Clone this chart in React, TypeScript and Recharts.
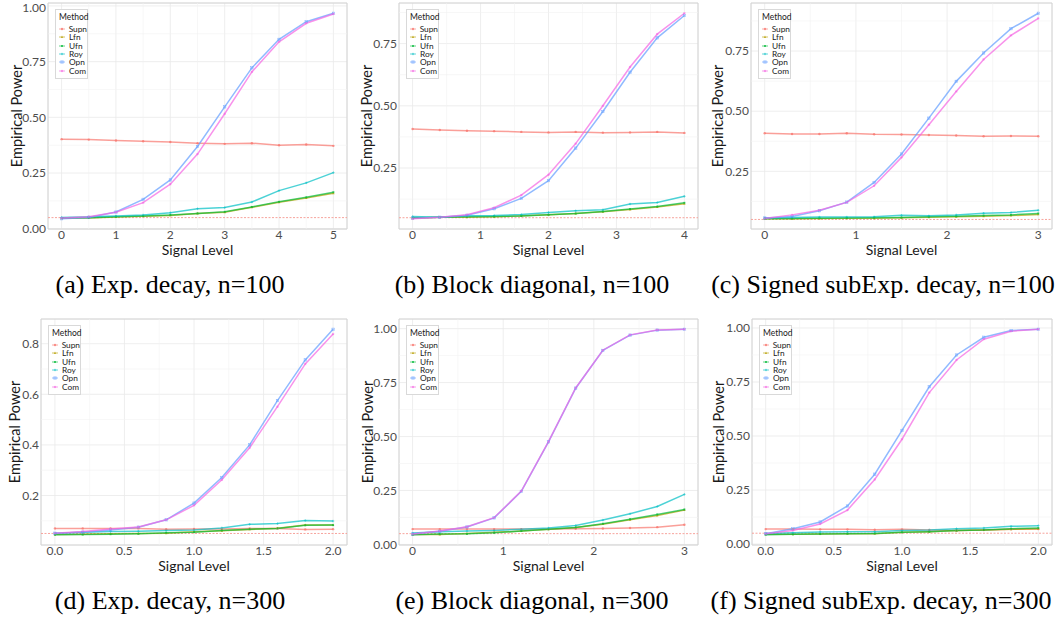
import React from "react";
import {
  LineChart,
  Line,
  XAxis,
  YAxis,
  CartesianGrid,
  ReferenceLine,
  ReferenceArea,
  Legend,
} from "recharts";

const methods = ["Supn", "Lfn", "Ufn", "Roy", "Opn", "Com"];
const colors = ["#F8766D", "#B79F00", "#00BA38", "#00BFC4", "#619CFF", "#F564E3"];

// (a) Exp. decay, n=100
const xA = [0, 0.5, 1, 1.5, 2, 2.5, 3, 3.5, 4, 4.5, 5];
const supnA = [0.402, 0.4, 0.396, 0.393, 0.389, 0.384, 0.381, 0.384, 0.375, 0.378, 0.372];
const lfnA = [0.047, 0.048, 0.053, 0.056, 0.06, 0.068, 0.074, 0.096, 0.119, 0.138, 0.159];
const ufnA = [0.048, 0.049, 0.054, 0.057, 0.062, 0.069, 0.076, 0.098, 0.121, 0.141, 0.164];
const royA = [0.051, 0.054, 0.057, 0.062, 0.072, 0.09, 0.095, 0.12, 0.171, 0.206, 0.252];
const opnA = [0.045, 0.051, 0.075, 0.132, 0.219, 0.369, 0.547, 0.722, 0.85, 0.929, 0.967];
const comA = [0.048, 0.054, 0.074, 0.117, 0.2, 0.335, 0.516, 0.704, 0.839, 0.922, 0.964];

// (b) Block diagonal, n=100
const xB = [0, 0.4, 0.8, 1.2, 1.6, 2, 2.4, 2.8, 3.2, 3.6, 4];
const supnB = [0.407, 0.403, 0.4, 0.398, 0.395, 0.393, 0.395, 0.392, 0.393, 0.395, 0.391];
const lfnB = [0.048, 0.052, 0.052, 0.054, 0.058, 0.062, 0.067, 0.074, 0.083, 0.093, 0.106];
const ufnB = [0.05, 0.052, 0.054, 0.055, 0.057, 0.062, 0.067, 0.075, 0.085, 0.095, 0.11];
const royB = [0.055, 0.052, 0.058, 0.059, 0.063, 0.071, 0.078, 0.082, 0.105, 0.111, 0.136];
const opnB = [0.048, 0.052, 0.06, 0.086, 0.128, 0.199, 0.33, 0.477, 0.635, 0.773, 0.863];
const comB = [0.046, 0.052, 0.062, 0.09, 0.141, 0.223, 0.348, 0.5, 0.656, 0.788, 0.872];

// (c) Signed subExp. decay, n=100
const xC = [0, 0.3, 0.6, 0.9, 1.2, 1.5, 1.8, 2.1, 2.4, 2.7, 3];
const supnC = [0.408, 0.405, 0.405, 0.408, 0.404, 0.403, 0.401, 0.399, 0.396, 0.397, 0.396];
const lfnC = [0.053, 0.053, 0.054, 0.055, 0.055, 0.057, 0.059, 0.061, 0.063, 0.066, 0.071];
const ufnC = [0.053, 0.054, 0.055, 0.056, 0.057, 0.058, 0.061, 0.063, 0.066, 0.069, 0.075];
const royC = [0.056, 0.058, 0.06, 0.06, 0.061, 0.067, 0.065, 0.069, 0.076, 0.079, 0.088];
const opnC = [0.056, 0.062, 0.086, 0.122, 0.204, 0.322, 0.471, 0.624, 0.742, 0.843, 0.907];
const comC = [0.054, 0.069, 0.088, 0.121, 0.19, 0.308, 0.444, 0.582, 0.715, 0.815, 0.886];

// (d) Exp. decay, n=300
const xD = [0, 0.2, 0.4, 0.6, 0.8, 1, 1.2, 1.4, 1.6, 1.8, 2];
const supnD = [0.07, 0.07, 0.07, 0.07, 0.067, 0.068, 0.068, 0.07, 0.07, 0.066, 0.067];
const lfnD = [0.046, 0.047, 0.049, 0.05, 0.051, 0.057, 0.061, 0.066, 0.071, 0.083, 0.083];
const ufnD = [0.045, 0.046, 0.047, 0.049, 0.053, 0.055, 0.062, 0.067, 0.07, 0.082, 0.083];
const royD = [0.051, 0.055, 0.058, 0.059, 0.062, 0.064, 0.072, 0.086, 0.089, 0.101, 0.099];
const opnD = [0.051, 0.055, 0.064, 0.075, 0.104, 0.17, 0.271, 0.4, 0.575, 0.736, 0.857];
const comD = [0.051, 0.058, 0.068, 0.076, 0.104, 0.161, 0.262, 0.389, 0.551, 0.72, 0.838];

// (e) Block diagonal, n=300
const xE = [0, 0.3, 0.6, 0.9, 1.2, 1.5, 1.8, 2.1, 2.4, 2.7, 3];
const supnE = [0.071, 0.071, 0.071, 0.071, 0.071, 0.071, 0.073, 0.074, 0.076, 0.08, 0.091];
const lfnE = [0.046, 0.046, 0.051, 0.056, 0.062, 0.07, 0.079, 0.094, 0.114, 0.134, 0.159];
const ufnE = [0.045, 0.048, 0.049, 0.054, 0.062, 0.07, 0.079, 0.096, 0.117, 0.139, 0.162];
const royE = [0.053, 0.059, 0.062, 0.065, 0.07, 0.076, 0.088, 0.113, 0.142, 0.176, 0.232];
const opnE = [0.048, 0.061, 0.081, 0.123, 0.246, 0.475, 0.724, 0.899, 0.97, 0.993, 0.997];
const comE = [0.048, 0.062, 0.082, 0.124, 0.247, 0.476, 0.725, 0.9, 0.971, 0.994, 0.997];

// (f) Signed subExp. decay, n=300
const xF = [0, 0.2, 0.4, 0.6, 0.8, 1, 1.2, 1.4, 1.6, 1.8, 2];
const supnF = [0.069, 0.069, 0.068, 0.068, 0.066, 0.068, 0.065, 0.063, 0.065, 0.068, 0.069];
const lfnF = [0.045, 0.045, 0.046, 0.048, 0.048, 0.054, 0.057, 0.062, 0.065, 0.068, 0.071];
const ufnF = [0.043, 0.045, 0.046, 0.048, 0.049, 0.054, 0.057, 0.062, 0.065, 0.071, 0.074];
const royF = [0.049, 0.052, 0.056, 0.057, 0.057, 0.063, 0.065, 0.071, 0.074, 0.082, 0.085];
const opnF = [0.048, 0.071, 0.102, 0.176, 0.323, 0.526, 0.728, 0.875, 0.957, 0.988, 0.994];
const comF = [0.048, 0.063, 0.093, 0.157, 0.299, 0.485, 0.701, 0.852, 0.948, 0.985, 0.994];

const panels = [
  { x: xA, series: [supnA, lfnA, ufnA, royA, opnA, comA], xTicks: [0, 1, 2, 3, 4, 5], xMinor: [0.5, 1.5, 2.5, 3.5, 4.5], yTicks: [0, 0.25, 0.5, 0.75, 1], yMinor: [0.125, 0.375, 0.625, 0.875], xDec: 0, yDec: 2, caption: "(a) Exp. decay, n=100", left: 0, width: 350, plotLeft: 48, plotRight: 347, top: 0, capX: 170, yTitle: 17 },
  { x: xB, series: [supnB, lfnB, ufnB, royB, opnB, comB], xTicks: [0, 1, 2, 3, 4], xMinor: [0.5, 1.5, 2.5, 3.5], yTicks: [0.25, 0.5, 0.75], yMinor: [0.125, 0.375, 0.625, 0.875], xDec: 0, yDec: 2, caption: "(b) Block diagonal, n=100", left: 350, width: 350, plotLeft: 399, plotRight: 698, top: 0, capX: 532, yTitle: 17 },
  { x: xC, series: [supnC, lfnC, ufnC, royC, opnC, comC], xTicks: [0, 1, 2, 3], xMinor: [0.5, 1.5, 2.5], yTicks: [0.25, 0.5, 0.75], yMinor: [0.125, 0.375, 0.625, 0.875], xDec: 0, yDec: 2, caption: "(c) Signed subExp. decay, n=100", left: 700, width: 362, plotLeft: 751, plotRight: 1052, top: 0, capX: 883, yTitle: 18 },
  { x: xD, series: [supnD, lfnD, ufnD, royD, opnD, comD], xTicks: [0, 0.5, 1, 1.5, 2], xMinor: [0.25, 0.75, 1.25, 1.75], yTicks: [0.2, 0.4, 0.6, 0.8], yMinor: [0.1, 0.3, 0.5, 0.7], xDec: 1, yDec: 1, caption: "(d) Exp. decay, n=300", left: 0, width: 350, plotLeft: 41, plotRight: 347, top: 316, capX: 170, yTitle: 15 },
  { x: xE, series: [supnE, lfnE, ufnE, royE, opnE, comE], xTicks: [0, 1, 2, 3], xMinor: [0.5, 1.5, 2.5], yTicks: [0, 0.25, 0.5, 0.75, 1], yMinor: [0.125, 0.375, 0.625, 0.875], xDec: 0, yDec: 2, caption: "(e) Block diagonal, n=300", left: 350, width: 350, plotLeft: 399, plotRight: 698, top: 316, capX: 532, yTitle: 18 },
  { x: xF, series: [supnF, lfnF, ufnF, royF, opnF, comF], xTicks: [0, 0.5, 1, 1.5, 2], xMinor: [0.25, 0.75, 1.25, 1.75], yTicks: [0, 0.25, 0.5, 0.75, 1], yMinor: [0.125, 0.375, 0.625, 0.875], xDec: 1, yDec: 2, caption: "(f) Signed subExp. decay, n=300", left: 700, width: 362, plotLeft: 752, plotRight: 1052, top: 316, capX: 881, yTitle: 19 },
];

const SANS = "Lato, 'Noto Sans', sans-serif";
const CHART_H = 260;

// ggplot-style 5% padding on both ends
function expand(vals: number[]): [number, number] {
  const lo = Math.min(...vals);
  const hi = Math.max(...vals);
  const pad = (hi - lo) * 0.05;
  return [lo - pad, hi + pad];
}

function marker(shape: number, cx: number, cy: number, color: string, key: string, r = 1.2) {
  const op = 0.75;
  if (shape === 0) return <circle key={key} cx={cx} cy={cy} r={r} fill={color} opacity={op} />;
  if (shape === 1)
    return <path key={key} d={`M${cx},${cy - r - 0.3}L${cx + r},${cy + r * 0.8}L${cx - r},${cy + r * 0.8}Z`} fill={color} opacity={op} />;
  if (shape === 2) return <rect key={key} x={cx - r * 0.8} y={cy - r * 0.8} width={r * 1.6} height={r * 1.6} fill={color} opacity={op} />;
  if (shape === 3)
    return <path key={key} d={`M${cx - r},${cy}H${cx + r}M${cx},${cy - r}V${cy + r}`} stroke={color} strokeWidth={0.7} opacity={op} />;
  if (shape === 4)
    return (
      <g key={key} stroke={color} strokeWidth={0.5} fill="none" opacity={op}>
        <rect x={cx - r} y={cy - r} width={r * 2} height={r * 2} />
        <path d={`M${cx - r},${cy - r}L${cx + r},${cy + r}M${cx + r},${cy - r}L${cx - r},${cy + r}`} />
      </g>
    );
  return (
    <path
      key={key}
      d={`M${cx - r},${cy}H${cx + r}M${cx},${cy - r}V${cy + r}M${cx - r * 0.7},${cy - r * 0.7}L${cx + r * 0.7},${cy + r * 0.7}M${cx + r * 0.7},${cy - r * 0.7}L${cx - r * 0.7},${cy + r * 0.7}`}
      stroke={color}
      strokeWidth={0.6}
      opacity={op}
    />
  );
}

function MethodLegend() {
  return (
    <div
      style={{
        border: "1px solid #D9D9D9",
        background: "#fff",
        width: 33,
        padding: "2px 0 3px 0",
        fontFamily: SANS,
        color: "#1a1a1a",
        boxSizing: "border-box",
      }}
    >
      <div style={{ fontSize: 8.5, lineHeight: "11px", paddingLeft: 3, marginBottom: 2 }}>Method</div>
      {methods.map((m, i) => (
        <div key={m} style={{ display: "flex", alignItems: "center", height: 8.3, fontSize: 8.3, lineHeight: "8px" }}>
          <svg width={11} height={8} style={{ marginLeft: 2 }}>
            <line x1={1} x2={7} y1={4} y2={4} stroke={colors[i]} strokeWidth={1} opacity={0.6} />
            {marker(i, 4, 4, colors[i], "k", 1.2)}
          </svg>
          <span>{m}</span>
        </div>
      ))}
    </div>
  );
}

function Panel({ p }: { p: (typeof panels)[number] }) {
  const data = p.x.map((x, i) => {
    const row: Record<string, number> = { x };
    methods.forEach((m, k) => (row[m] = p.series[k][i]));
    return row;
  });
  const xDomain = expand(p.x);
  const yDomain = expand(p.series.flat());
  const plotTop = 3;
  const plotH = 226;
  const axisH = 28;
  const yAxisW = p.plotLeft - p.left;
  return (
    <div style={{ position: "absolute", left: p.left, top: p.top, width: p.width, height: 300 }}>
      <LineChart
        width={p.width}
        height={CHART_H}
        data={data}
        margin={{ top: plotTop, right: p.left + p.width - p.plotRight, left: 0, bottom: CHART_H - plotTop - plotH - axisH }}
      >
        {p.xMinor.map((v) => (
          <ReferenceLine key={"xm" + v} x={v} stroke="#F2F2F2" strokeWidth={0.6} />
        ))}
        {p.yMinor
          .filter((v) => v > yDomain[0] && v < yDomain[1])
          .map((v) => (
            <ReferenceLine key={"ym" + v} y={v} stroke="#F2F2F2" strokeWidth={0.6} />
          ))}
        <CartesianGrid stroke="#EAEAEA" strokeWidth={0.8} />
        <XAxis
          type="number"
          dataKey="x"
          domain={xDomain}
          ticks={p.xTicks}
          allowDataOverflow
          tickFormatter={(v: number) => v.toFixed(p.xDec)}
          axisLine={false}
          tickLine={false}
          tickSize={1}
          tickMargin={0}
          height={axisH}
          tick={{ fill: "#4D4D4D", fontSize: 12, fontFamily: SANS }}
          label={{ value: "Signal Level", position: "insideBottom", offset: 2, fill: "#1a1a1a", fontSize: 14, fontFamily: SANS }}
        />
        <YAxis
          type="number"
          domain={yDomain}
          ticks={p.yTicks}
          allowDataOverflow
          tickFormatter={(v: number) => v.toFixed(p.yDec)}
          axisLine={false}
          tickLine={false}
          tickSize={2}
          tickMargin={0}
          width={yAxisW}
          tick={{ fill: "#4D4D4D", fontSize: 12, fontFamily: SANS }}
          label={{
            value: "Empirical Power",
            angle: -90,
            position: "insideLeft",
            offset: p.yTitle,
            fill: "#1a1a1a",
            fontSize: 14.5,
            fontFamily: SANS,
            style: { textAnchor: "middle" },
          }}
        />
        <ReferenceArea
          x1={xDomain[0]}
          x2={xDomain[1]}
          y1={yDomain[0]}
          y2={yDomain[1]}
          fill="none"
          stroke="#D4D4D4"
          strokeWidth={1}
          ifOverflow="visible"
        />
        <ReferenceLine y={0.05} stroke="#F7A39C" strokeDasharray="2 1.5" strokeWidth={1} />
        {methods.map((m, k) => (
          <Line
            key={m}
            dataKey={m}
            type="linear"
            stroke={colors[k]}
            strokeWidth={1.5}
            strokeOpacity={0.7}
            isAnimationActive={false}
            dot={(d: any) => marker(k, d.cx, d.cy, colors[k], `${m}-${d.index}`)}
            activeDot={false}
          />
        ))}
        <Legend
          layout="vertical"
          align="center"
          verticalAlign="middle"
          content={() => <MethodLegend />}
          wrapperStyle={{ left: yAxisW + 7, top: plotTop + 6, width: 33, height: 66 }}
        />
      </LineChart>
      <div
        style={{
          position: "absolute",
          left: p.capX - p.left - 200,
          width: 400,
          top: 270,
          textAlign: "center",
          whiteSpace: "nowrap",
          fontFamily: "'Liberation Serif', 'Times New Roman', serif",
          fontSize: 26,
          lineHeight: "30px",
          color: "#000",
        }}
      >
        {p.caption}
      </div>
    </div>
  );
}

export default function App() {
  return (
    <div style={{ position: "absolute", left: 0, top: 0, width: 1062, height: 624, background: "#fff", overflow: "hidden" }}>
      {panels.map((p) => (
        <Panel key={p.caption} p={p} />
      ))}
    </div>
  );
}
